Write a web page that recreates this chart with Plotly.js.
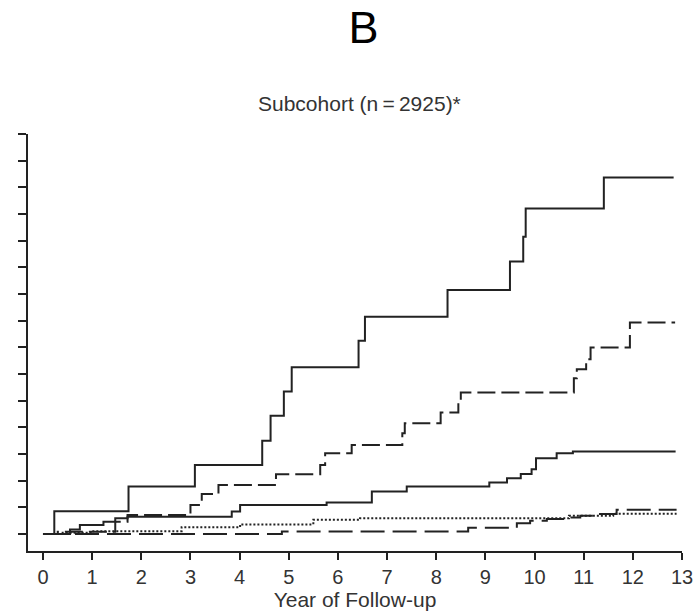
<!DOCTYPE html>
<html>
<head>
<meta charset="utf-8">
<script src="https://cdn.plot.ly/plotly-3.0.1.min.js"></script>
<style>
  html, body { margin: 0; padding: 0; background: #fff; }
  #chart { width: 698px; height: 614px; }
</style>
</head>
<body>
<div id="chart"></div>
<script>
// Year of follow-up tick labels
const xTicks = [0,1,2,3,4,5,6,7,8,9,10,11,12,13];
// Unlabelled y ticks (cumulative incidence, tick units)
const yTicks = [0,1,2,3,4,5,6,7,8,9,10,11,12,13,14,15];

// Curve 1: top solid
const s1X = [0, 0.23, 1.74, 3.09, 4.46, 4.63, 4.90, 5.06, 6.42, 6.55, 8.23, 9.50, 9.77, 9.82, 11.41, 12.83];
const s1Y = [0, 0.85, 1.78, 2.59, 3.50, 4.43, 5.34, 6.25, 7.25, 8.15, 9.15, 10.22, 11.15, 12.21, 13.37, 13.37];

// Curve 2: dashed
const s2X = [0, 0.30, 1.47, 1.72, 3.00, 3.23, 3.57, 4.74, 5.64, 5.74, 6.28, 7.31, 7.36, 8.09, 8.45, 8.50, 10.80, 10.86, 11.05, 11.14, 11.94, 12.86];
const s2Y = [0, 0.08, 0.46, 0.71, 1.09, 1.50, 1.84, 2.24, 2.59, 3.03, 3.34, 3.78, 4.15, 4.56, 4.93, 5.31, 5.84, 6.18, 6.55, 6.99, 7.93, 7.93];

// Curve 3: lower solid
const s3X = [0, 0.55, 0.75, 1.23, 1.47, 1.72, 3.84, 4.01, 5.77, 6.69, 7.40, 9.08, 9.44, 9.72, 9.94, 10.03, 10.45, 10.78, 12.87];
const s3Y = [0, 0.17, 0.34, 0.46, 0.59, 0.65, 0.84, 1.09, 1.18, 1.59, 1.78, 1.93, 2.09, 2.25, 2.43, 2.84, 3.03, 3.09, 3.09];

// Curve 4: dotted
const s4X = [0, 0.40, 1.00, 2.82, 4.01, 5.50, 6.45, 10.70, 11.60, 12.89];
const s4Y = [0, 0.05, 0.10, 0.25, 0.36, 0.53, 0.59, 0.68, 0.76, 0.76];

// Curve 5: long dashes
const s5X = [0, 4.86, 8.65, 9.64, 9.91, 10.25, 10.65, 10.93, 11.27, 11.67, 12.89];
const s5Y = [0, 0.09, 0.23, 0.40, 0.50, 0.56, 0.62, 0.68, 0.75, 0.91, 0.91];

const ink = '#222';
function stepTrace(x, y, dash, width) {
  return { x: x, y: y, type: 'scatter', mode: 'lines',
           line: { shape: 'hv', color: ink, width: width, dash: dash },
           hoverinfo: 'skip', showlegend: false };
}

const data = [
  stepTrace(s5X, s5Y, '24px,8px', 2),
  stepTrace(s4X, s4Y, '2px,2px', 2),
  stepTrace(s3X, s3Y, 'solid', 2),
  stepTrace(s2X, s2Y, '18px,6px', 2),
  stepTrace(s1X, s1Y, 'solid', 2)
];

const font = 'Liberation Sans, Arial, Helvetica, sans-serif';

const layout = {
  width: 698, height: 614,
  margin: { l: 28, r: 16, t: 134, b: 63 },
  paper_bgcolor: '#fff', plot_bgcolor: '#fff',
  showlegend: false,
  title: { text: 'B', font: { family: font, size: 45, color: '#000' },
           x: 358/698, xanchor: 'center', xref: 'paper',
           y: 1 - 27/614, yanchor: 'middle', yref: 'container' },
  xaxis: {
    range: [-0.305, 13.0],
    tickvals: xTicks, ticktext: xTicks.map(String),
    ticks: 'outside', ticklen: 7, tickwidth: 2, tickcolor: ink,
    showline: true, linecolor: ink, linewidth: 2,
    showgrid: false, zeroline: false,
    tickfont: { family: font, size: 20, color: '#333' },
    title: { text: 'Year of Follow-up', font: { family: font, size: 21, color: '#333' }, standoff: 3 }
  },
  yaxis: {
    range: [-0.6375, 15],
    tickvals: yTicks,
    showticklabels: false,
    ticks: 'outside', ticklen: 8, tickwidth: 2, tickcolor: ink,
    showline: true, linecolor: ink, linewidth: 2,
    showgrid: false, zeroline: false
  },
  annotations: [{
    text: 'Subcohort (n\u2009=\u20092925)*',
    xref: 'paper', yref: 'paper',
    x: (359 - 28) / 654, y: (551 - 103) / 417,
    xanchor: 'center', yanchor: 'middle',
    showarrow: false,
    font: { family: font, size: 21, color: '#333' }
  }]
};

Plotly.newPlot('chart', data, layout, { displayModeBar: false, staticPlot: true });
</script>
</body>
</html>
